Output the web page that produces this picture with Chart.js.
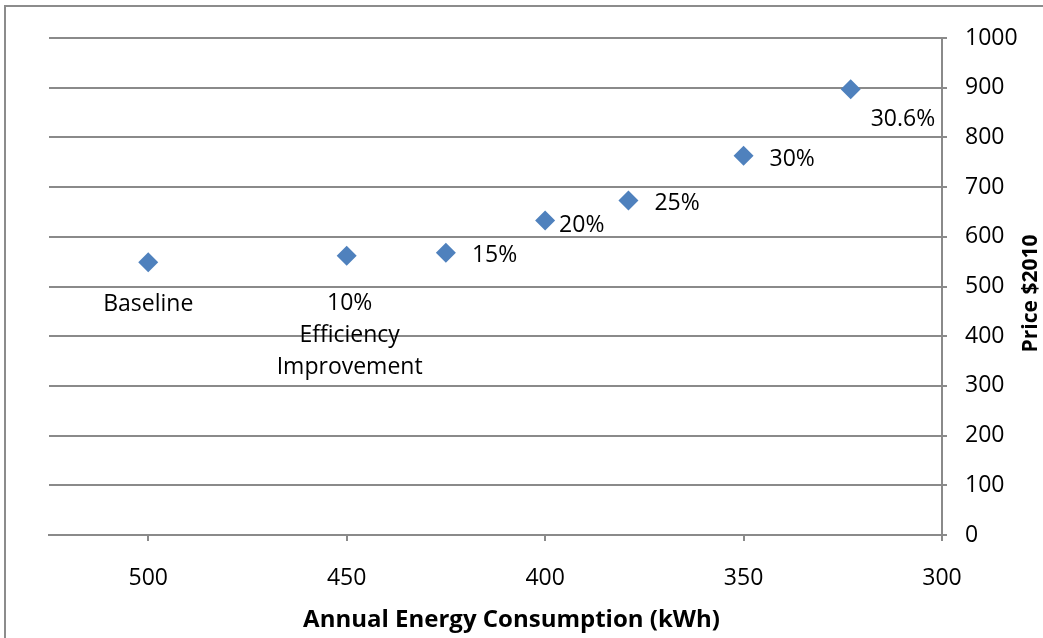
<!DOCTYPE html>
<html><head><meta charset="utf-8">
<script src="https://cdn.jsdelivr.net/npm/chart.js@4/dist/chart.umd.min.js"></script>
<style>html,body{margin:0;padding:0;background:#fff;}#wrap{width:1043px;height:638px;position:relative;}</style>
</head><body><div id="wrap"><canvas id="c"></canvas></div>
<script>
// ---- data ----
const energyKWh = [500, 450, 425, 400, 379, 350, 323];
const priceUSD2010 = [549, 562, 568, 633, 673, 763, 897];
const pointLabels = [['Baseline'], ['10%', 'Efficiency', 'Improvement'], ['15%'], ['20%'], ['25%'], ['30%'], ['30.6%']];
const xTickValues = [500, 450, 400, 350, 300];
const yTickValues = [0, 100, 200, 300, 400, 500, 600, 700, 800, 900, 1000];
const xAxisTitle = 'Annual Energy Consumption (kWh)';
const yAxisTitle = 'Price $2010';

// ---- label layout (not data) ----
const labelPlacement = [
  {align: 'center', dx: 0, dy: 42},
  {align: 'center', dx: 3, dy: 48},
  {align: 'left', dx: 26, dy: 3},
  {align: 'left', dx: 14, dy: 5},
  {align: 'left', dx: 26, dy: 3},
  {align: 'left', dx: 26, dy: 4},
  {align: 'left', dx: 20, dy: 30}
];

const FONT = "'Open Sans', sans-serif";
const GRID = '#8a8a8a';
const BLUE = '#4F81BD';

const framePlugin = {
  id: 'frame',
  beforeDraw(chart) {
    const ctx = chart.ctx;
    ctx.save();
    ctx.fillStyle = '#fff';
    ctx.fillRect(0, 0, chart.width, chart.height);
    ctx.strokeStyle = '#8c8c8c';
    ctx.lineWidth = 2;
    ctx.beginPath();
    ctx.moveTo(5, chart.height + 5);
    ctx.lineTo(5, 6);
    ctx.lineTo(chart.width + 5, 6);
    ctx.stroke();
    ctx.restore();
  }
};

const labelPlugin = {
  id: 'labels',
  afterDatasetsDraw(chart) {
    const ctx = chart.ctx;
    const meta = chart.getDatasetMeta(0);
    ctx.save();
    ctx.fillStyle = '#000';
    ctx.font = "23px " + FONT;
    ctx.textBaseline = 'middle';
    meta.data.forEach((pt, i) => {
      const p = labelPlacement[i];
      ctx.textAlign = p.align;
      pointLabels[i].forEach((line, j) => {
        ctx.fillText(line, pt.x + p.dx, pt.y + p.dy + j * 32);
      });
    });
    // axis titles
    const ca = chart.chartArea;
    ctx.font = "bold 24px " + FONT;
    ctx.textAlign = 'center';
    ctx.fillText(xAxisTitle, (ca.left + ca.right) / 2 + 16, 620);
    ctx.font = "bold 21px " + FONT;
    ctx.translate(1031, (ca.top + ca.bottom) / 2 + 7);
    ctx.rotate(-Math.PI / 2);
    ctx.fillText(yAxisTitle, 0, 0);
    ctx.restore();
  }
};

new Chart(document.getElementById('c'), {
  type: 'scatter',
  data: {
    datasets: [{
      data: energyKWh.map((x, i) => ({x: x, y: priceUSD2010[i]})),
      pointStyle: 'rectRot',
      pointRadius: 10,
      pointHoverRadius: 10,
      backgroundColor: BLUE,
      borderColor: BLUE,
      borderWidth: 0
    }]
  },
  options: {
    responsive: true,
    maintainAspectRatio: false,
    animation: false,
    events: [],
    layout: {padding: {left: 49, top: 38, right: 0, bottom: 0}},
    plugins: {legend: {display: false}, tooltip: {enabled: false}, title: {display: false}},
    scales: {
      x: {
        type: 'linear',
        position: 'bottom',
        reverse: true,
        min: 300,
        max: 525,
        afterBuildTicks(s) { s.ticks = xTickValues.map(v => ({value: v})); },
        afterFit(s) { s.height = 103; },
        grid: {display: true, drawOnChartArea: false, drawTicks: true, tickLength: 6, color: GRID, lineWidth: 2},
        border: {display: true, color: GRID, width: 2},
        ticks: {color: '#000', font: {family: FONT, size: 23}, padding: 24, maxRotation: 0, callback: v => String(v)}
      },
      y: {
        type: 'linear',
        position: 'right',
        min: 0,
        max: 1000,
        afterBuildTicks(s) { s.ticks = yTickValues.map(v => ({value: v})); },
        afterFit(s) { s.width = 101; },
        grid: {display: true, drawOnChartArea: true, drawTicks: true, tickLength: 5, color: GRID, lineWidth: 2},
        border: {display: true, color: GRID, width: 2},
        ticks: {color: '#000', font: {family: FONT, size: 23}, padding: 18, callback: v => String(v)}
      }
    }
  },
  plugins: [framePlugin, labelPlugin]
});
</script>
</body></html>
